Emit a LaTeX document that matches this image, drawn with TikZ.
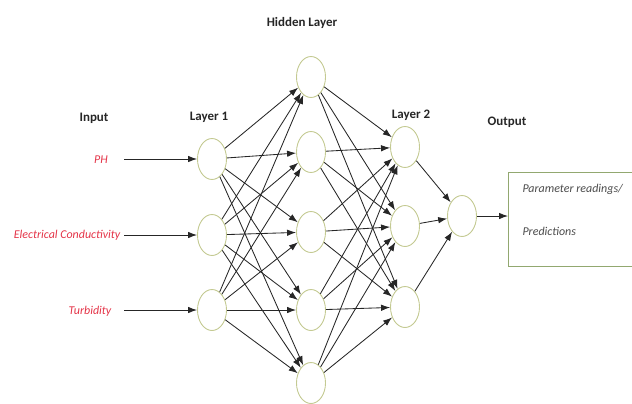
\documentclass[tikz,border=0pt]{standalone}
\usepackage{fontspec}
\setmainfont{Carlito}
\usetikzlibrary{shapes.geometric,arrows.meta}
\definecolor{neuronline}{RGB}{196,202,146}
\definecolor{boxline}{RGB}{146,168,112}
\definecolor{inred}{RGB}{228,52,72}
\tikzset{
  neuron/.style={ellipse,draw=neuronline,line width=0.9bp,fill=white,
    minimum width=29bp,minimum height=41bp,inner sep=0pt},
  link/.style={draw=black!85,line width=0.85bp,-{Latex[length=9bp,width=6.5bp]}},
  heading/.style={font=\fontsize{13}{15}\selectfont\bfseries,text=black!85},
  inlabel/.style={font=\fontsize{12}{14}\selectfont\itshape,text=inred},
  outtext/.style={font=\fontsize{12}{14}\selectfont\itshape,text=black!70,anchor=west}
}
\begin{document}
\begin{tikzpicture}[x=1bp,y=-1bp]
\useasboundingbox (0,0) rectangle (632,403);

% headings
\node[heading] (hHidden) at (302,23) {Hidden Layer};
\node[heading] (hInput) at (94,118) {Input};
\node[heading] (hL1) at (209,117) {Layer 1};
\node[heading] (hL2) at (411,115) {Layer 2};
\node[heading] (hOut) at (507,122) {Output};

% input labels
\node[inlabel] (tPH) at (101,160) {PH};
\node[inlabel] (tEC) at (67,235) {Electrical Conductivity};
\node[inlabel] (tTu) at (90,311) {Turbidity};

% neurons
\node[neuron] (a1) at (212,159) {};
\node[neuron] (a2) at (212,235) {};
\node[neuron] (a3) at (212,310) {};
\node[neuron] (b1) at (311,77) {};
\node[neuron] (b2) at (311,152) {};
\node[neuron] (b3) at (311,232) {};
\node[neuron] (b4) at (311,310) {};
\node[neuron] (b5) at (311,383) {};
\node[neuron] (c1) at (405,147) {};
\node[neuron] (c2) at (405,226) {};
\node[neuron] (c3) at (405,307) {};
\node[neuron] (o) at (462,216) {};

% result box
\node[draw=boxline,line width=1.2bp,fill=white,minimum width=135bp,minimum height=94bp,
  anchor=north west,inner sep=0pt] (res) at (508,172) {};
\node[outtext] (r1) at (519,189) {Parameter readings/};
\node[outtext] (r2) at (519,231) {Predictions};

% input arrows
\coordinate (s1) at (124,159);
\coordinate (s2) at (124,235);
\coordinate (s3) at (124,310);
\draw[link] (s1) -- (a1);
\draw[link] (s2) -- (a2);
\draw[link] (s3) -- (a3);

% fully connected layers
\foreach \i in {1,2,3}
  \foreach \j in {1,...,5}
    \draw[link] (a\i) -- (b\j);
\foreach \j in {1,...,5}
  \foreach \k in {1,2,3}
    \draw[link] (b\j) -- (c\k);
\foreach \k in {1,2,3}
  \draw[link] (c\k) -- (o);
\draw[link] (o) -- (res.west |- o);
\end{tikzpicture}
\end{document}
